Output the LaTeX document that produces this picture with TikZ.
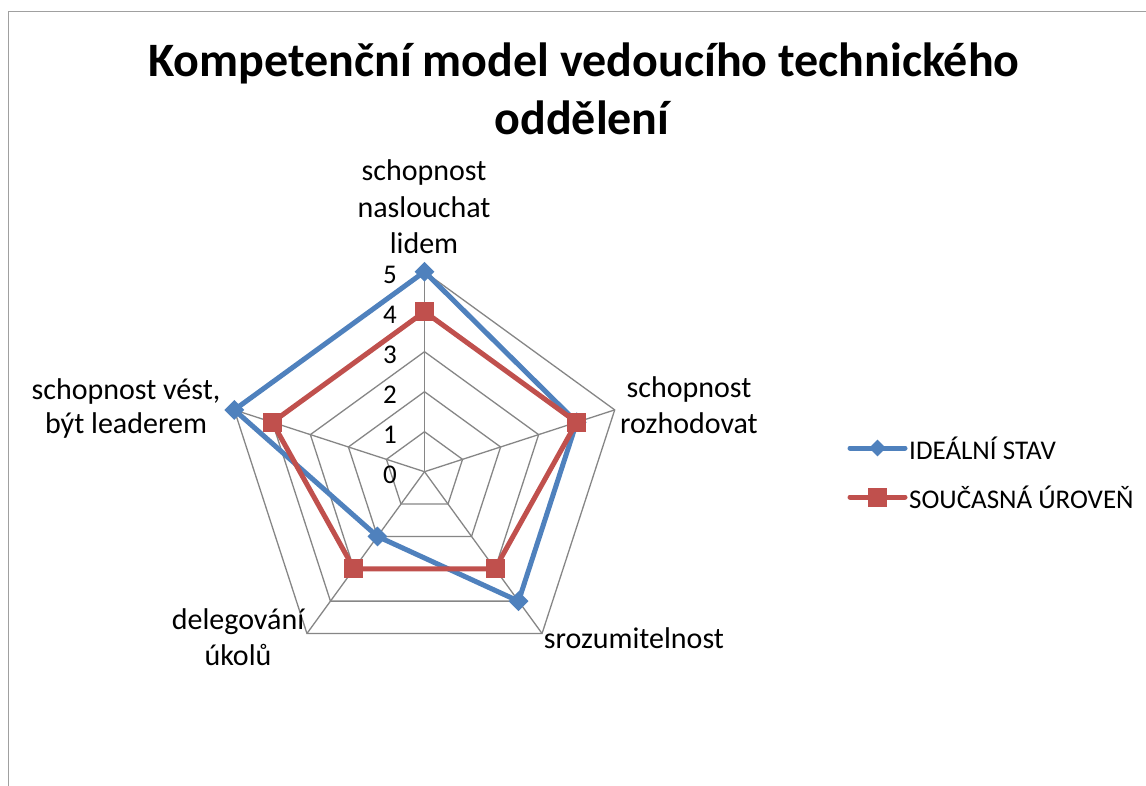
\documentclass[tikz,border=0pt]{standalone}
\usepackage{fontspec}
\setmainfont{Carlito}
\usetikzlibrary{shapes.geometric}
\definecolor{idealblue}{HTML}{4F81BD}
\definecolor{curred}{HTML}{C0504D}
\definecolor{gridgray}{HTML}{868686}
\definecolor{framegray}{HTML}{A0A0A0}
\begin{document}
\begin{tikzpicture}[x=1pt,y=1pt,
  gridline/.style={draw=gridgray, line width=1.3pt},
  idealline/.style={draw=idealblue, line width=5pt, line join=round, line cap=round},
  curline/.style={draw=curred, line width=5pt, line join=round, line cap=round},
  idealmark/.style={diamond, fill=idealblue, minimum width=20pt, minimum height=20pt, inner sep=0pt},
  curmark/.style={rectangle, fill=curred, minimum size=19pt, inner sep=0pt},
  axislabel/.style={font=\fontsize{30}{36}\selectfont, align=center, anchor=base, inner sep=0pt},
  ticklabel/.style={font=\fontsize{27}{30}\selectfont, inner sep=0pt},
  legendtext/.style={font=\fontsize{27}{30}\selectfont, anchor=west, inner sep=0pt},
  titletext/.style={font=\fontsize{48}{58}\selectfont\bfseries, anchor=base, inner sep=0pt}]

\useasboundingbox (0,-786) rectangle (1146,0);
\fill[white] (0,-786) rectangle (1146,0);
\draw[framegray, line width=1.5pt] (8.5,-790) -- (8.5,-11.5) -- (1150,-11.5);

% title
\node[titletext] (title1) at (584,-77) {Kompetenční model vedoucího technického};
\node[titletext] (title2) at (582,-134.5) {oddělení};

% radar grid
\coordinate (O) at (424.5,-471.7);
\foreach \r in {40,80,120,160,200}
  \draw[gridline] ([shift={(90:\r)}]O) -- ([shift={(18:\r)}]O) -- ([shift={(-54:\r)}]O)
     -- ([shift={(-126:\r)}]O) -- ([shift={(162:\r)}]O) -- cycle;
\foreach \a [count=\i] in {90,18,-54,-126,162} {
  \coordinate (v\i) at ([shift={(\a:200)}]O);
  \draw[gridline] (O) -- (v\i);
}

% scale numbers
\foreach \k in {0,...,5}
  \node[ticklabel] (t\k) at (390,{-474.7+40*\k}) {\k};

% axis labels (anchored on the baseline of their last line)
\node[axislabel, font=\fontsize{30}{36.5}\selectfont] (ax1) at (424,-254) {schopnost\\naslouchat\\lidem};
\node[axislabel] (ax2) at (689,-433.5) {schopnost\\rozhodovat};
\node[axislabel] (ax3) at (634,-648) {srozumitelnost};
\node[axislabel] (ax4) at (238,-665) {delegování\\úkolů};
\node[axislabel, font=\fontsize{30}{34}\selectfont] (ax5) at (126,-433) {schopnost vést,\\být leaderem};

% data: ideal state 5,4,4,2,5 ; current level 4,4,3,3,4
\foreach \a/\v [count=\i] in {90/5,18/4,-54/4,-126/2,162/5}
  \coordinate (i\i) at ([shift={(\a:40*\v)}]O);
\foreach \a/\v [count=\i] in {90/4,18/4,-54/3,-126/3,162/4}
  \coordinate (c\i) at ([shift={(\a:40*\v)}]O);

\draw[idealline] (i1) -- (i2) -- (i3) -- (i4) -- (i5) -- cycle;
\foreach \i in {1,...,5} \node[idealmark] (im\i) at (i\i) {};
\draw[curline] (c1) -- (c2) -- (c3) -- (c4) -- (c5) -- cycle;
\foreach \i in {1,...,5} \node[curmark] (cm\i) at (c\i) {};

% legend
\coordinate (la1) at (850,-448);
\coordinate (lb1) at (905,-448);
\draw[idealline] (la1) -- (lb1);
\node[idealmark, minimum width=17pt, minimum height=17pt] (lm1) at (877.5,-448) {};
\node[legendtext] (lt1) at (909,-448) {IDEÁLNÍ STAV};
\coordinate (la2) at (850,-497);
\coordinate (lb2) at (905,-497);
\draw[curline] (la2) -- (lb2);
\node[curmark] (lm2) at (877.5,-497) {};
\node[legendtext] (lt2) at (909,-497) {SOUČASNÁ ÚROVEŇ};
\end{tikzpicture}
\end{document}
